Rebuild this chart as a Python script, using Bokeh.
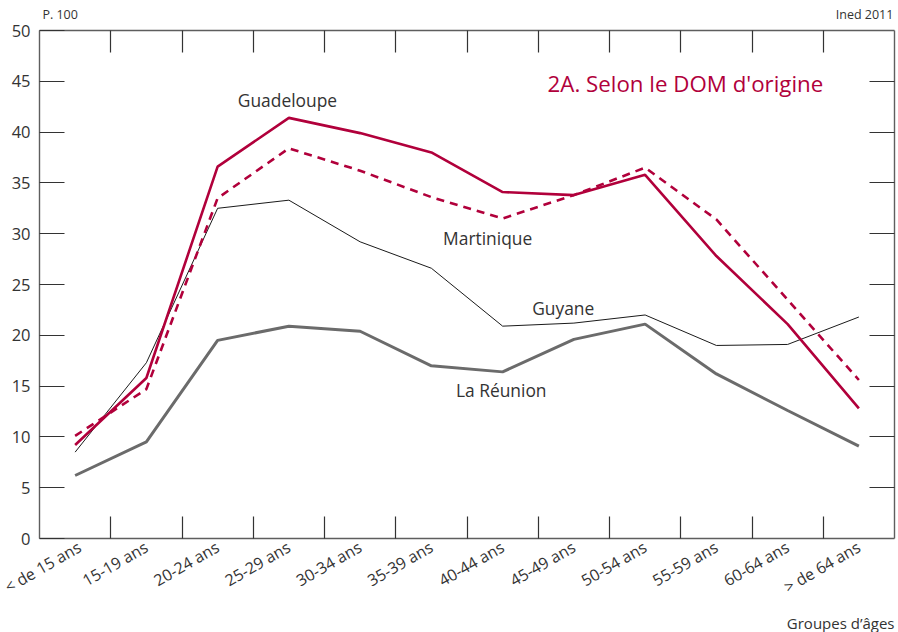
import math
from bokeh.plotting import figure
from bokeh.models import (FactorRange, Range1d, LinearAxis, CategoricalAxis, FixedTicker,
                          Label, Title, ColumnDataSource)
from bokeh.embed import file_html
from bokeh.resources import INLINE

# ---- data ----
age_groups = ["< de 15 ans", "15-19 ans", "20-24 ans", "25-29 ans", "30-34 ans", "35-39 ans",
              "40-44 ans", "45-49 ans", "50-54 ans", "55-59 ans", "60-64 ans", "> de 64 ans"]
guadeloupe = [9.2, 15.8, 36.6, 41.4, 39.9, 38.0, 34.1, 33.8, 35.8, 27.8, 21.1, 12.8]
martinique = [10.1, 14.7, 33.5, 38.4, 36.2, 33.6, 31.5, 33.8, 36.5, 31.4, 23.5, 15.6]
guyane = [8.5, 17.3, 32.5, 33.3, 29.2, 26.6, 20.9, 21.2, 22.0, 19.0, 19.1, 21.8]
reunion = [6.2, 9.5, 19.5, 20.9, 20.4, 17.0, 16.4, 19.6, 21.1, 16.2, 12.6, 9.1]
y_ticks = [0, 5, 10, 15, 20, 25, 30, 35, 40, 45, 50]
unit_text = "P. 100"
source_text = "Ined 2011"
x_title = "Groupes d\u2019âges"

CRIMSON = "#b1003b"
FONT = "Open Sans"
TXT = "#333333"
AX = "#5e5e5e"

W, H = 898, 632
BL, BT, BR, BB = 39, 30, 4, 94

p = figure(width=W, height=H,
           x_range=FactorRange(*age_groups, range_padding=0),
           y_range=Range1d(0, 50),
           output_backend="svg", toolbar_location=None,
           x_axis_location=None, y_axis_location=None,
           min_border_left=BL, min_border_top=BT, min_border_right=BR, min_border_bottom=BB)
p.xgrid.grid_line_color = None
p.ygrid.grid_line_color = None
p.outline_line_color = None
p.background_fill_color = "white"
p.border_fill_color = "white"

tick_style = dict(major_tick_out=0, minor_tick_line_color=None,
                  axis_line_color=AX, axis_line_width=1.4,
                  major_tick_line_color="#333333", major_tick_line_width=1.2)
hidden_labels = dict(major_label_text_color=None, major_label_text_font_size="1px",
                     major_label_standoff=0)

# left axis with labels, ticks inward
left = LinearAxis(ticker=FixedTicker(ticks=y_ticks), major_tick_in=25,
                  major_label_text_font=FONT, major_label_text_font_size="16.5px",
                  major_label_text_color=TXT, major_label_standoff=9, **tick_style)
p.add_layout(left, "left")

# right axis: ticks only
right = LinearAxis(ticker=FixedTicker(ticks=y_ticks[1:-1]), major_tick_in=25,
                   **tick_style, **hidden_labels)
p.add_layout(right, "right")

# category boundary ticks (synthetic coordinates of the factor range)
edge_ticks = list(range(1, len(age_groups)))
for side in ("above", "below"):
    ax = LinearAxis(ticker=FixedTicker(ticks=edge_ticks), major_tick_in=22,
                    **tick_style, **hidden_labels)
    p.add_layout(ax, side)

# header texts above the frame (unit at left, source at right)
head_pos = [0.29, 11.58]
head = LinearAxis(ticker=FixedTicker(ticks=head_pos),
                  major_label_overrides={head_pos[0]: unit_text, head_pos[1]: source_text},
                  axis_line_color=None, major_tick_line_color=None, minor_tick_line_color=None,
                  major_tick_in=0, major_tick_out=0,
                  major_label_text_font=FONT, major_label_text_font_size="12.5px",
                  major_label_text_color=TXT, major_label_standoff=8)
p.add_layout(head, "above")

cat_axis = CategoricalAxis(axis_line_color=None, major_tick_line_color=None,
                           minor_tick_line_color=None, major_tick_out=0, major_tick_in=0,
                           major_label_orientation=math.pi / 6,
                           major_label_text_font=FONT, major_label_text_font_size="16px",
                           major_label_text_color=TXT, major_label_standoff=7)
p.add_layout(cat_axis, "below")

p.add_layout(Title(text=x_title, align="right", text_font=FONT,
                   text_font_size="15px", text_font_style="normal", text_color=TXT,
                   standoff=0), "below")

src = ColumnDataSource(dict(x=age_groups, gua=guadeloupe, mar=martinique, guy=guyane, reu=reunion))
p.line("x", "reu", source=src, line_color="#6b6b6b", line_width=3)
p.line("x", "guy", source=src, line_color="#1a1a1a", line_width=1)
p.line("x", "mar", source=src, line_color=CRIMSON, line_width=2.6, line_dash="8 6")
p.line("x", "gua", source=src, line_color=CRIMSON, line_width=2.6)

def lab(text, x, y, size="17.4px", color=TXT, align="center"):
    p.add_layout(Label(x=x, y=y, text=text, text_font=FONT, text_font_size=size,
                       text_color=color, text_align=align, text_baseline="middle"))

lab("Guadeloupe", 3.48, 43.2)
lab("Martinique", 6.29, 29.6)
lab("Guyane", 7.35, 22.7)
lab("La Réunion", 6.48, 14.65)
lab("2A. Selon le DOM d'origine", 11.0, 44.8, size="22.3px", color=CRIMSON, align="right")

open("out.html", "w").write(file_html(p, INLINE))
